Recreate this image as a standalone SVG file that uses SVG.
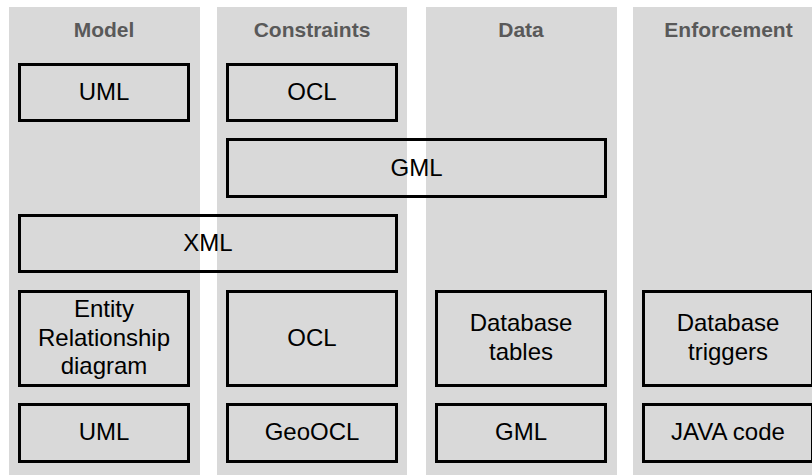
<svg xmlns="http://www.w3.org/2000/svg" width="812" height="475" viewBox="0 0 812 475">
<style>
.lane{fill:#d9d9d9;}
.hdr{font-family:"Liberation Sans",Arial,sans-serif;font-size:21px;font-weight:bold;fill:#595959;text-anchor:middle;}
.box{fill:none;stroke:#000;stroke-width:3;}
.lbl{font-family:"Liberation Sans",Arial,sans-serif;font-size:24px;fill:#000;text-anchor:middle;}
</style>
<rect width="812" height="475" fill="#ffffff"/>
<g id="lanes">
<rect class="lane" x="9" y="7" width="191" height="468"/>
<rect class="lane" x="217" y="7" width="190" height="468"/>
<rect class="lane" x="426" y="7" width="191" height="468"/>
<rect class="lane" x="633" y="7" width="179" height="468"/>
<text class="hdr" x="104" y="37">Model</text>
<text class="hdr" x="312" y="37">Constraints</text>
<text class="hdr" x="521" y="37">Data</text>
<text class="hdr" x="728.5" y="37">Enforcement</text>
</g>
<g id="connectors"></g>
<g id="uml1"><rect class="box" x="19.5" y="64.5" width="169" height="56"/><text class="lbl" x="104" y="99.5">UML</text></g>
<g id="ocl1"><rect class="box" x="227.5" y="64.5" width="169" height="56"/><text class="lbl" x="312" y="99.5">OCL</text></g>
<g id="gml1"><rect class="box" x="227.5" y="139.5" width="378" height="57"/><text class="lbl" x="416.5" y="175.5">GML</text></g>
<g id="xml"><rect class="box" x="19.5" y="215.5" width="377" height="56"/><text class="lbl" x="208" y="250.5">XML</text></g>
<g id="erd"><rect class="box" x="19.5" y="291.5" width="169" height="94"/><text class="lbl" x="104"><tspan x="104" y="317">Entity</tspan><tspan x="104" y="345.5">Relationship</tspan><tspan x="104" y="374">diagram</tspan></text></g>
<g id="ocl2"><rect class="box" x="227.5" y="291.5" width="169" height="94"/><text class="lbl" x="312" y="345.5">OCL</text></g>
<g id="dbtables"><rect class="box" x="436.5" y="291.5" width="169" height="94"/><text class="lbl" x="521"><tspan x="521" y="331">Database</tspan><tspan x="521" y="359.5">tables</tspan></text></g>
<g id="dbtriggers"><rect class="box" x="643.5" y="291.5" width="169" height="94"/><text class="lbl" x="728"><tspan x="728" y="331">Database</tspan><tspan x="728" y="359.5">triggers</tspan></text></g>
<g id="uml2"><rect class="box" x="19.5" y="404.5" width="169" height="57"/><text class="lbl" x="104" y="440">UML</text></g>
<g id="geoocl"><rect class="box" x="227.5" y="404.5" width="169" height="57"/><text class="lbl" x="312" y="440">GeoOCL</text></g>
<g id="gml2"><rect class="box" x="436.5" y="404.5" width="169" height="57"/><text class="lbl" x="521" y="440">GML</text></g>
<g id="java"><rect class="box" x="643.5" y="404.5" width="169" height="57"/><text class="lbl" x="728" y="440">JAVA code</text></g>
</svg>
